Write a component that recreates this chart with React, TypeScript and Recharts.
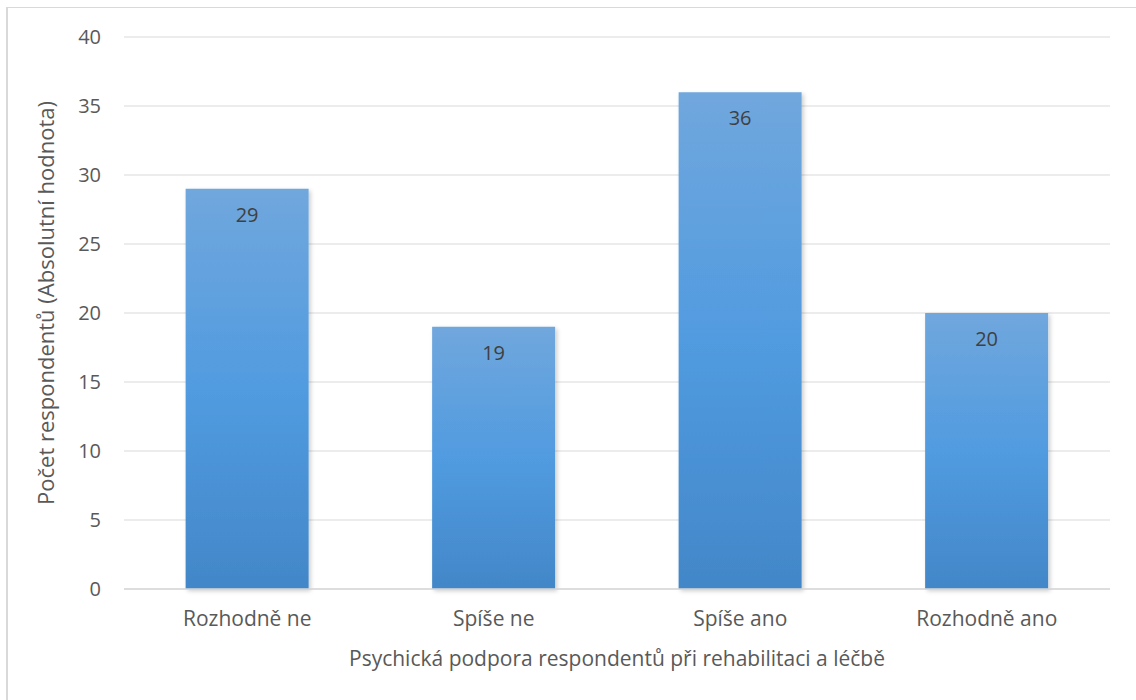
import { Bar, BarChart, CartesianGrid, LabelList, XAxis, YAxis } from 'recharts';

const categories = ['Rozhodně ne', 'Spíše ne', 'Spíše ano', 'Rozhodně ano'];
const respondents = [29, 19, 36, 20];
const yTicks = [0, 5, 10, 15, 20, 25, 30, 35, 40];

const data = categories.map((name, i) => ({ name, value: respondents[i] }));

const TEXT = '#595959';
const FONT = '"Open Sans", sans-serif';
const Y_TITLE = 'Počet respondentů (Absolutní hodnota)';

type ViewBox = { x?: number; y?: number; width?: number; height?: number };

function YTitle({ viewBox }: { viewBox?: ViewBox }) {
  const vb = viewBox ?? {};
  const cx = (vb.x ?? 0) + 45;
  const cy = (vb.y ?? 0) + (vb.height ?? 0) / 2 - 10;
  return (
    <text
      x={cx}
      y={cy}
      transform={`rotate(-90, ${cx}, ${cy})`}
      textAnchor='middle'
      dominantBaseline='central'
      fill={TEXT}
      fontSize={22}
      fontFamily={FONT}
    >
      {Y_TITLE}
    </text>
  );
}

export default function App() {
  return (
    <div style={{ position: 'absolute', left: 0, top: 0, width: 1136, height: 700, background: '#fff', overflow: 'hidden', fontFamily: FONT }}>
      <div
        style={{
          position: 'absolute',
          left: 6,
          top: 7,
          width: 1200,
          height: 800,
          borderLeft: '2px solid #d9d9d9',
          borderTop: '1.5px solid #d9d9d9',
        }}
      />
      <div style={{ position: 'absolute', left: 0, top: 0 }}>
        <BarChart
          width={1136}
          height={700}
          data={data}
          margin={{ top: 37, right: 26, bottom: 0, left: 0 }}
          barCategoryGap='25%'
        >
          <defs>
            <linearGradient id='barFill' x1='0' y1='0' x2='0' y2='1'>
              <stop offset='0%' stopColor='#70a7dd' />
              <stop offset='50%' stopColor='#519be0' />
              <stop offset='100%' stopColor='#4287c8' />
            </linearGradient>
            <filter id='barShadow' x='-10%' y='-10%' width='130%' height='120%'>
              <feDropShadow dx='2' dy='2' stdDeviation='2' floodColor='#000' floodOpacity='0.2' />
            </filter>
          </defs>
          <CartesianGrid stroke='#d9d9d9' vertical={false} />
          <XAxis
            dataKey='name'
            height={111}
            axisLine={{ stroke: '#d9d9d9', strokeWidth: 1.5 }}
            tickLine={false}
            tick={{ fill: TEXT, fontSize: 21, fontFamily: FONT }}
            tickMargin={16}
            label={{
              value: 'Psychická podpora respondentů při rehabilitaci a léčbě',
              position: 'insideBottom',
              offset: 34,
              fill: TEXT,
              fontSize: 21,
              fontFamily: FONT,
            }}
          />
          <YAxis
            width={124}
            domain={[0, 40]}
            ticks={yTicks}
            axisLine={false}
            tickLine={false}
            tickMargin={17}
            tick={{ fill: TEXT, fontSize: 20, fontFamily: FONT }}
            label={{ content: (props: { viewBox?: ViewBox }) => <YTitle viewBox={props.viewBox} /> }}
          />
          <Bar dataKey='value' fill='url(#barFill)' filter='url(#barShadow)' isAnimationActive={false}>
            <LabelList dataKey='value' position='insideTop' offset={19} fill='#404040' fontSize={20} fontFamily={FONT} />
          </Bar>
        </BarChart>
      </div>
    </div>
  );
}
